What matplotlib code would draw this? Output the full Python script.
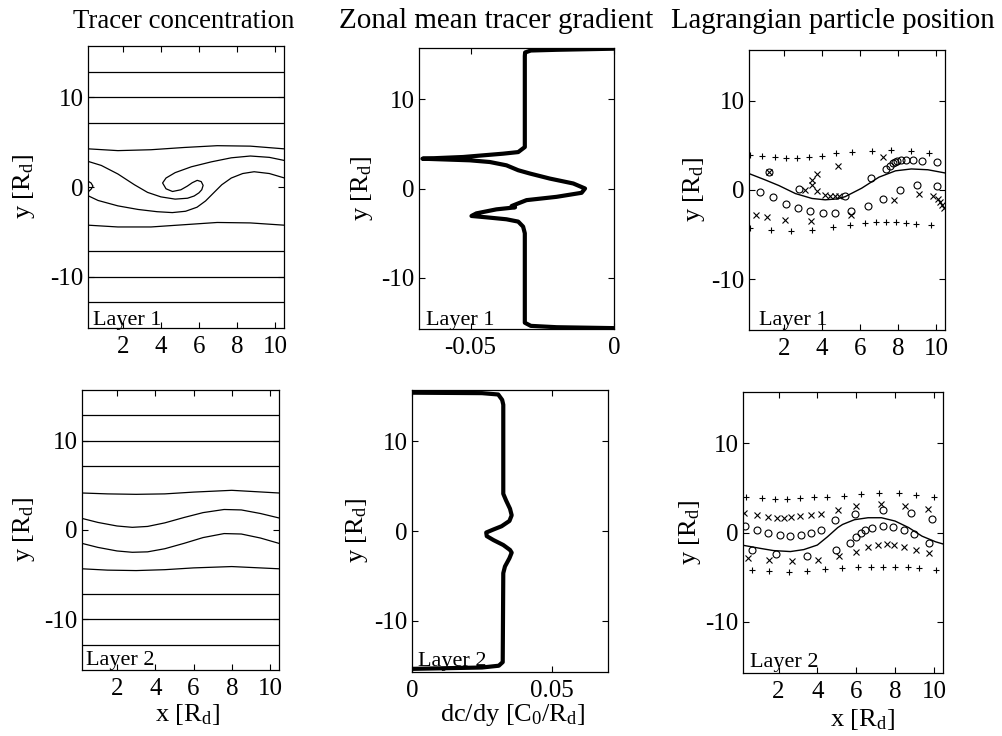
import matplotlib
matplotlib.use('Agg')
import matplotlib.pyplot as plt

plt.rcParams['font.family'] = 'Liberation Serif'
plt.rcParams['mathtext.default'] = 'regular'
plt.rcParams['axes.unicode_minus'] = False

# ---- layer 1 tracer contours (x, y) ----
flat_levels = [12.86, 10.0, 7.14, -7.14, -10.0, -12.86]
wave_x = [0.17, 1.74, 3.48, 5.22, 6.96, 8.70, 10.47]
l1_wave_top = [4.25, 4.05, 4.15, 4.4, 4.6, 4.55, 4.25]
l1_wave_bot = [-4.25, -4.45, -4.45, -4.2, -3.95, -4.0, -4.25]

# upper contour: left edge -> trough -> tongue -> hook -> right edge
l1_up_x = [0.1, 0.87, 1.74, 2.61, 3.30, 4.0, 4.75, 5.4, 5.75, 6.0, 6.15, 6.22, 6.12, 5.91,
           5.65, 5.39, 5.05, 4.61, 4.27, 4.09, 4.27, 4.75, 5.6, 6.65, 7.7, 8.7, 9.7, 10.5]
l1_up_y = [2.9, 2.4, 1.45, 0.25, -0.6, -1.1, -1.35, -1.25, -1.0, -0.65, -0.3, 0.18, 0.6, 0.74,
           0.48, 0.1, -0.31, -0.5, -0.2, 0.45, 1.0, 1.6, 2.25, 2.8, 3.25, 3.45, 3.3, 2.95]
# lower contour: small bump at the left edge, deep trough, rises to right edge
l1_lo_x = [0.05, 0.33, 0.43, 0.33, 0.2, 0.1, 0.7, 1.74, 2.8, 3.8, 4.6, 5.3, 5.9, 6.35,
           6.75, 7.2, 7.7, 8.3, 8.9, 9.7, 10.5]
l1_lo_y = [0.8, 0.45, 0.1, -0.25, -0.5, -0.9, -1.5, -2.1, -2.5, -2.75, -2.85, -2.7, -2.25, -1.55,
           -0.7, 0.25, 1.0, 1.5, 1.7, 1.5, 1.0]

# ---- layer 2 tracer contours ----
wave2_x = [0.17, 1.5, 3.0, 4.5, 6.0, 8.0, 10.47]
l2_wave_top = [4.15, 4.05, 4.0, 4.05, 4.25, 4.45, 4.15]
l2_wave_bot = [-4.35, -4.5, -4.55, -4.45, -4.25, -4.1, -4.35]
mid2_x = [0.17, 1.0, 2.0, 2.8, 3.6, 4.5, 5.5, 6.5, 7.6, 8.5, 9.5, 10.47]
l2_up_y = [1.3, 0.85, 0.45, 0.3, 0.4, 0.8, 1.4, 1.95, 2.3, 2.25, 1.85, 1.35]
l2_lo_y = [-1.5, -1.95, -2.35, -2.5, -2.45, -2.1, -1.5, -0.85, -0.4, -0.45, -0.9, -1.5]

# ---- zonal mean gradients ----
g1_y = [15.62, 15.5, 15.42, 15.2, 14.8, 4.63, 4.07, 3.89, 3.52, 3.33, 3.15, 2.96, 2.59, 2.04,
        1.67, 1.11, 0.56, 0.0, -0.48, -0.93, -1.30, -1.74, -1.96, -2.11, -2.33, -2.78, -3.07,
        -3.22, -3.44, -3.70, -4.26, -5.0, -15.0, -15.35, -15.5, -15.6]
g1_x = [-0.0005, -0.02, -0.029, -0.031, -0.0311, -0.0311, -0.0334, -0.0387, -0.0526, -0.0668,
        -0.0503, -0.0433, -0.0375, -0.0334, -0.0293, -0.0224, -0.0142, -0.0101, -0.0113, -0.02,
        -0.0305, -0.034, -0.0357, -0.0345, -0.041, -0.048, -0.0497, -0.0445, -0.0375, -0.0334,
        -0.0317, -0.0311, -0.0311, -0.029, -0.02, -0.0005]
g2_y = [15.4, 15.35, 15.2, 14.6, 14.06, 4.14, 3.4, 2.48, 1.75, 1.12, 0.53, 0.17, -0.17, -0.57,
        -1.01, -1.56, -2.11, -2.41, -3.03, -3.95, -4.69, -14.6, -15.0, -15.2, -15.35]
g2_x = [0.0, 0.025, 0.0308, 0.0322, 0.0326, 0.0326, 0.0336, 0.035, 0.0356, 0.0348, 0.032, 0.0291,
        0.0265, 0.0267, 0.0291, 0.0326, 0.035, 0.0356, 0.0348, 0.0332, 0.0326, 0.0324, 0.031,
        0.025, 0.0]

# ---- Lagrangian particles, layer 1 ----
p1_plus_x = [0.21, 0.87, 1.53, 2.09, 2.70, 3.30, 4.00, 4.73, 5.60, 6.61, 7.65, 8.70, 9.65,
             0.21, 1.31, 2.40, 3.48, 4.56, 5.48, 6.26, 6.87, 7.39, 7.92, 8.44, 8.96, 9.74]
p1_plus_y = [3.95, 3.8, 3.7, 3.6, 3.6, 3.65, 3.85, 4.15, 4.3, 4.4, 4.5, 4.4, 4.2,
             -4.28, -4.46, -4.6, -4.46, -4.15, -3.9, -3.72, -3.55, -3.55, -3.6, -3.7, -3.8, -3.95]
p1_cross_x = [1.22, 4.87, 3.74, 3.48, 3.48, 3.10, 3.74, 4.17, 4.44, 4.70, 4.91, 0.52, 1.13, 2.05,
              3.44, 5.53, 7.22, 7.79, 9.08, 9.82, 10.09, 10.23, 10.29, 10.40]
p1_cross_y = [1.99, 2.74, 1.81, 1.07, 0.59, 0.0, -0.14, -0.51, -0.70, -0.70, -0.70, -2.80, -2.99,
              -3.36, -3.47, -2.8, 3.66, -1.14, -0.40, -0.66, -1.03, -1.33, -1.70, -2.0]
p1_circ_x = [1.22, 2.79, 0.73, 1.43, 2.09, 2.75, 3.39, 4.04, 4.70, 5.22, 5.53, 6.40, 7.22, 8.09,
             9.01, 10.05, 6.6, 7.39, 7.57, 7.74, 7.86, 7.97, 8.18, 8.44, 8.78, 9.25, 10.05]
p1_circ_y = [2.0, 0.15, -0.22, -0.81, -1.55, -1.99, -2.36, -2.54, -2.54, -0.70, -2.36, -1.77,
             -0.96, 0.0, 0.52, 0.44, 1.3, 2.37, 2.73, 3.04, 3.18, 3.25, 3.40, 3.40, 3.40, 3.29, 3.10]
p1_line_x = [0.1, 1.0, 1.74, 2.61, 3.48, 4.17, 4.8, 5.22, 6.09, 7.0, 7.87, 8.70, 9.57, 10.5]
p1_line_y = [1.9, 1.15, 0.5, -0.4, -0.95, -1.1, -1.0, -0.75, 0.2, 1.44, 2.15, 2.36, 2.27, 1.9]

# ---- Lagrangian particles, layer 2 ----
p2_plus_x = [0.35, 1.13, 1.83, 2.44, 3.13, 3.83, 4.52, 5.36, 6.23, 7.16, 8.18, 9.08, 10.0,
             0.61, 1.53, 2.52, 3.48, 4.40, 5.27, 6.09, 6.78, 7.39, 8.0, 8.66, 9.25, 10.09]
p2_plus_y = [3.92, 3.85, 3.74, 3.74, 3.85, 3.92, 4.0, 4.1, 4.29, 4.36, 4.36, 4.21, 4.0,
             -4.2, -4.28, -4.38, -4.33, -4.1, -3.95, -3.85, -3.8, -3.8, -3.8, -3.85, -3.96, -4.15]
p2_cross_x = [0.21, 0.87, 1.48, 1.92, 2.26, 2.65, 3.13, 3.65, 4.21, 5.05, 6.0, 7.27, 8.49, 9.70,
              0.43, 1.53, 2.70, 4.03, 5.13, 6.0, 6.61, 7.13, 7.57, 7.97, 8.44, 9.08, 9.77]
p2_cross_y = [2.16, 1.91, 1.72, 1.65, 1.65, 1.72, 1.80, 1.91, 2.09, 2.46, 3.0, 3.19, 3.0, 2.64,
              -2.86, -3.12, -3.23, -3.12, -2.61, -2.13, -1.65, -1.40, -1.29, -1.40, -1.65, -1.95, -2.32]
p2_circ_x = [0.26, 0.90, 1.48, 2.05, 2.61, 3.17, 3.65, 4.17, 4.92, 5.95, 7.39, 8.83, 9.91,
             0.61, 1.88, 3.48, 4.96, 5.70, 6.0, 6.23, 6.47, 6.82, 7.39, 7.92, 8.44, 8.96, 9.77]
p2_circ_y = [0.69, 0.25, -0.04, -0.30, -0.41, -0.30, -0.04, 0.33, 1.43, 2.09, 2.46, 2.16, 1.54,
             -1.95, -2.39, -2.61, -1.95, -1.14, -0.48, -0.04, 0.25, 0.55, 0.70, 0.62, 0.25, -0.19, -1.14]
p2_line_x = [0.1, 1.05, 1.74, 2.61, 3.30, 4.0, 4.52, 5.05, 5.3, 5.91, 6.61, 7.30, 8.0, 8.70,
             9.39, 10.09, 10.5]
p2_line_y = [-1.4, -1.77, -2.02, -2.13, -1.91, -1.40, -0.48, 0.55, 0.9, 1.43, 1.65, 1.65, 1.28,
             0.55, -0.41, -1.04, -1.3]

xr = [0.17, 10.47]

fig = plt.figure(figsize=(10.03, 7.36), dpi=100)
W, H = 1003.0, 736.0


def make_ax(l, t, r, b):
    return fig.add_axes([l / W, 1 - b / H, (r - l) / W, (b - t) / H])


def style(ax, xlim, xt, xtl, ylab_x, layer, off):
    ax.set_xlim(xlim)
    ax.set_ylim(-15.7, 15.7)
    ax.set_xticks(xt)
    ax.set_xticklabels(xtl)
    ax.set_yticks([-10, 0, 10])
    ax.set_yticklabels(['-10', '0', '10'])
    ax.tick_params(direction='in', top=True, right=True, length=4, width=0.8,
                   labelsize=18, colors='black')
    ax.tick_params(axis='x', pad=6)
    ax.tick_params(axis='y', pad=3)
    for s in ax.spines.values():
        s.set_linewidth(0.9)
    ax.set_ylabel('y [R$_d$]', fontsize=19)
    ax.yaxis.set_label_coords(ylab_x, 0.5)
    ax.annotate(layer, xy=(0, 0), xycoords='axes fraction', xytext=off,
                textcoords='offset points', fontsize=16, va='baseline')


cw = dict(color='black', lw=0.9)
xt = [2, 4, 6, 8, 10]
xtl = ['2', '4', '6', '8', '10']

# tracer concentration, layer 1
ax = make_ax(88, 46, 284, 328)
for lev in flat_levels:
    ax.plot(xr, [lev, lev], **cw)
ax.plot(wave_x, l1_wave_top, **cw)
ax.plot(wave_x, l1_wave_bot, **cw)
ax.plot(l1_up_x, l1_up_y, **cw)
ax.plot(l1_lo_x, l1_lo_y, **cw)
style(ax, xr, xt, xtl, -0.26, 'Layer 1', (3.5, 2.5))

# tracer concentration, layer 2
ax = make_ax(82, 390, 279, 670)
for lev in flat_levels:
    ax.plot(xr, [lev, lev], **cw)
ax.plot(wave2_x, l2_wave_top, **cw)
ax.plot(wave2_x, l2_wave_bot, **cw)
ax.plot(mid2_x, l2_up_y, **cw)
ax.plot(mid2_x, l2_lo_y, **cw)
style(ax, xr, xt, xtl, -0.228, 'Layer 2', (3.0, 3.5))
ax.set_xlabel('x [R$_d$]', fontsize=19)
ax.xaxis.set_label_coords(0.533, -0.115)

# zonal mean gradient, layer 1
ax = make_ax(419, 48, 614, 329)
ax.plot(g1_x, g1_y, color='black', lw=3.0, solid_joinstyle='round')
style(ax, [-0.068, 0], [-0.05, 0], ['-0.05', '0'], -0.226, 'Layer 1', (5.0, 3.0))

# zonal mean gradient, layer 2
ax = make_ax(412, 390, 608, 672)
ax.plot(g2_x, g2_y, color='black', lw=3.0, solid_joinstyle='round')
style(ax, [0, 0.07], [0, 0.05], ['0', '0.05'], -0.213, 'Layer 2', (4.0, 4.0))
ax.set_xlabel('dc/dy [C$_0$/R$_d$]', fontsize=19)
ax.xaxis.set_label_coords(0.513, -0.108)

mk = dict(linestyle='none', color='black', markersize=5, markeredgewidth=0.8)

# particles, layer 1
ax = make_ax(749, 50, 945, 330)
ax.plot(p1_line_x, p1_line_y, color='black', lw=1.0)
ax.plot(p1_plus_x, p1_plus_y, marker='+', **mk)
ax.plot(p1_cross_x, p1_cross_y, marker='x', **mk)
ax.plot(p1_circ_x, p1_circ_y, marker='o', markerfacecolor='none', **mk)
style(ax, xr, xt, xtl, -0.215, 'Layer 1', (7.5, 3.5))

# particles, layer 2
ax = make_ax(743, 392, 943, 673)
ax.plot(p2_line_x, p2_line_y, color='black', lw=1.0)
ax.plot(p2_plus_x, p2_plus_y, marker='+', **mk)
ax.plot(p2_cross_x, p2_cross_y, marker='x', **mk)
ax.plot(p2_circ_x, p2_circ_y, marker='o', markerfacecolor='none', **mk)
style(ax, xr, xt, xtl, -0.2, 'Layer 2', (5.0, 4.0))
ax.set_xlabel('x [R$_d$]', fontsize=19)
ax.xaxis.set_label_coords(0.598, -0.12)

# column titles
fig.text(184 / W, 1 - 28 / H, 'Tracer concentration', fontsize=19.3, ha='center', va='baseline')
fig.text(496 / W, 1 - 28 / H, 'Zonal mean tracer gradient', fontsize=21, ha='center', va='baseline')
fig.text(833 / W, 1 - 28 / H, 'Lagrangian particle position', fontsize=20.7, ha='center', va='baseline')

fig.savefig('out.png', dpi=100)
